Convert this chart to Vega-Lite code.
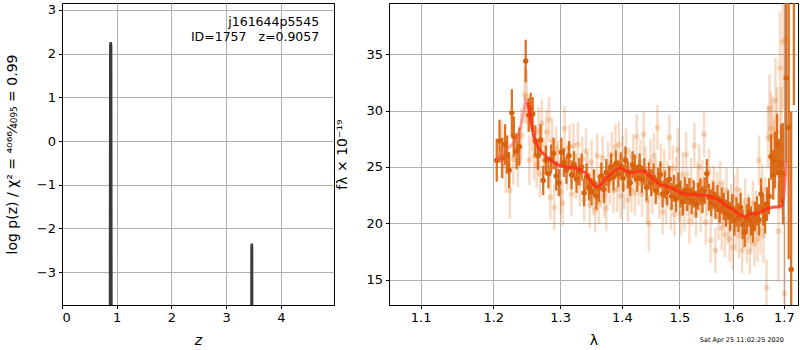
{
  "$schema": "https://vega.github.io/schema/vega-lite/v6.json",
  "background": "white",
  "padding": {"left": 4, "top": 2, "right": 1, "bottom": 0},
  "spacing": 0,
  "config": {
    "font": "DejaVu Sans",
    "view": {"stroke": "black", "strokeWidth": 1},
    "axis": {
      "labelFont": "DejaVu Sans", "labelFontSize": 13, "labelColor": "black",
      "titleFont": "DejaVu Sans", "titleFontSize": 14, "titleFontWeight": "normal", "titleColor": "black",
      "tickColor": "black", "tickSize": 3.5, "domainColor": "black",
      "gridColor": "#b0b0b0", "gridWidth": 1, "labelPadding": 3
    }
  },
  "datasets": {
    "pz": [
      {"z": 0.0, "lp": -6}, {"z": 0.872, "lp": -6}, {"z": 0.88, "lp": 2.2}, {"z": 0.89, "lp": 2.26}, {"z": 0.9, "lp": 2.2}, {"z": 0.908, "lp": -6},
      {"z": 3.455, "lp": -6}, {"z": 3.461, "lp": -2.4}, {"z": 3.468, "lp": -2.35}, {"z": 3.475, "lp": -2.4}, {"z": 3.481, "lp": -6}, {"z": 4.97, "lp": -6}
    ],
    "labels": [
      {"z": 4.70, "lp": 2.73, "t": "j161644p5545"},
      {"z": 4.70, "lp": 2.39, "t": "ID=1757\u00a0\u00a0\u00a0z=0.9057"}
    ],
    "stamp": [{"l": 1.6166, "f": 9.6, "t": "Sat Apr 25 11:02:25 2020"}],
    "dark": [
      {"l":1.205,"f":25.6,"e":1.9},{"l":1.209,"f":27.3,"e":1.9},{"l":1.213,"f":25.8,"e":1.8},{"l":1.217,"f":27.0,"e":1.8},
      {"l":1.220,"f":26.1,"e":1.7},{"l":1.223,"f":24.7,"e":1.6},{"l":1.227,"f":29.8,"e":2.1},{"l":1.230,"f":27.7,"e":1.8},
      {"l":1.234,"f":26.4,"e":1.6},{"l":1.238,"f":26.8,"e":1.7},{"l":1.2475,"f":34.4,"e":1.9},{"l":1.252,"f":29.6,"e":1.5},
      {"l":1.255,"f":30.2,"e":1.4},{"l":1.258,"f":29.7,"e":1.5},{"l":1.262,"f":27.3,"e":1.4},{"l":1.266,"f":26.0,"e":1.3},
      {"l":1.270,"f":27.4,"e":1.4},{"l":1.274,"f":23.8,"e":1.3},{"l":1.278,"f":25.6,"e":1.3},{"l":1.282,"f":24.4,"e":1.3},
      {"l":1.286,"f":25.7,"e":1.3},{"l":1.290,"f":26.2,"e":1.4},{"l":1.294,"f":24.2,"e":1.3},{"l":1.298,"f":23.6,"e":1.2},
      {"l":1.302,"f":26.3,"e":1.3},{"l":1.306,"f":25.4,"e":1.3},{"l":1.310,"f":24.7,"e":1.2},{"l":1.314,"f":26.0,"e":1.3},
      {"l":1.318,"f":24.3,"e":1.3},{"l":1.322,"f":25.2,"e":1.2},{"l":1.326,"f":23.9,"e":1.2},{"l":1.330,"f":24.6,"e":1.2},
      {"l":1.334,"f":25.0,"e":1.2},{"l":1.338,"f":22.7,"e":1.2},{"l":1.342,"f":24.1,"e":1.2},{"l":1.346,"f":23.2,"e":1.2},
      {"l":1.350,"f":22.8,"e":1.2},{"l":1.354,"f":23.6,"e":1.2},{"l":1.358,"f":22.4,"e":1.2},{"l":1.362,"f":23.1,"e":1.2},
      {"l":1.366,"f":24.2,"e":1.2},{"l":1.370,"f":23.0,"e":1.2},{"l":1.374,"f":24.5,"e":1.2},{"l":1.378,"f":23.9,"e":1.2},
      {"l":1.382,"f":25.0,"e":1.2},{"l":1.386,"f":24.1,"e":1.2},{"l":1.390,"f":25.3,"e":1.2},{"l":1.394,"f":24.4,"e":1.2},
      {"l":1.398,"f":25.1,"e":1.2},{"l":1.402,"f":24.0,"e":1.2},{"l":1.406,"f":25.6,"e":1.2},{"l":1.410,"f":24.3,"e":1.2},
      {"l":1.414,"f":23.6,"e":1.2},{"l":1.418,"f":25.2,"e":1.2},{"l":1.422,"f":24.9,"e":1.2},{"l":1.426,"f":24.0,"e":1.2},
      {"l":1.430,"f":25.0,"e":1.2},{"l":1.434,"f":23.9,"e":1.2},{"l":1.438,"f":24.6,"e":1.2},{"l":1.442,"f":23.2,"e":1.2},
      {"l":1.446,"f":24.2,"e":1.2},{"l":1.450,"f":23.6,"e":1.2},{"l":1.454,"f":24.1,"e":1.2},{"l":1.458,"f":22.9,"e":1.2},
      {"l":1.462,"f":23.7,"e":1.2},{"l":1.466,"f":24.3,"e":1.2},{"l":1.470,"f":22.6,"e":1.2},{"l":1.474,"f":23.4,"e":1.2},
      {"l":1.478,"f":22.8,"e":1.2},{"l":1.482,"f":23.9,"e":1.2},{"l":1.486,"f":22.4,"e":1.2},{"l":1.490,"f":23.1,"e":1.2},
      {"l":1.494,"f":22.2,"e":1.2},{"l":1.498,"f":23.3,"e":1.2},{"l":1.502,"f":22.6,"e":1.2},{"l":1.506,"f":21.9,"e":1.2},
      {"l":1.510,"f":22.9,"e":1.2},{"l":1.514,"f":22.3,"e":1.2},{"l":1.518,"f":22.8,"e":1.2},{"l":1.522,"f":22.0,"e":1.2},
      {"l":1.526,"f":22.6,"e":1.2},{"l":1.530,"f":21.7,"e":1.2},{"l":1.534,"f":22.4,"e":1.2},{"l":1.538,"f":22.8,"e":1.2},
      {"l":1.542,"f":22.1,"e":1.2},{"l":1.546,"f":22.9,"e":1.2},{"l":1.550,"f":24.4,"e":1.3},{"l":1.554,"f":22.3,"e":1.2},
      {"l":1.558,"f":21.8,"e":1.2},{"l":1.562,"f":22.5,"e":1.2},{"l":1.566,"f":21.6,"e":1.2},{"l":1.570,"f":22.2,"e":1.2},
      {"l":1.574,"f":21.2,"e":1.2},{"l":1.578,"f":22.0,"e":1.2},{"l":1.582,"f":21.5,"e":1.2},{"l":1.586,"f":20.9,"e":1.2},
      {"l":1.590,"f":21.6,"e":1.3},{"l":1.594,"f":20.6,"e":1.3},{"l":1.598,"f":21.3,"e":1.3},{"l":1.602,"f":20.2,"e":1.3},
      {"l":1.606,"f":21.0,"e":1.3},{"l":1.610,"f":20.5,"e":1.3},{"l":1.614,"f":21.4,"e":1.3},{"l":1.618,"f":19.9,"e":1.3},
      {"l":1.622,"f":19.2,"e":1.3},{"l":1.626,"f":20.4,"e":1.3},{"l":1.630,"f":21.0,"e":1.3},{"l":1.634,"f":20.2,"e":1.3},
      {"l":1.638,"f":19.6,"e":1.3},{"l":1.642,"f":20.6,"e":1.3},{"l":1.646,"f":21.1,"e":1.3},{"l":1.650,"f":20.3,"e":1.4},
      {"l":1.654,"f":22.6,"e":1.4},{"l":1.658,"f":21.2,"e":1.4},{"l":1.662,"f":20.5,"e":1.4},{"l":1.666,"f":21.7,"e":1.5},
      {"l":1.670,"f":22.4,"e":1.6},{"l":1.674,"f":25.9,"e":2.0},{"l":1.678,"f":24.3,"e":2.2},{"l":1.682,"f":25.6,"e":2.5},
      {"l":1.686,"f":27.0,"e":2.7},{"l":1.690,"f":24.5,"e":3.0},{"l":1.694,"f":25.3,"e":3.5},{"l":1.698,"f":24.4,"e":4.5},
      {"l":1.7047,"f":32.9,"e":7.5},{"l":1.7098,"f":28.5,"e":11.7},{"l":1.7149,"f":15.9,"e":14.0},{"l":1.7205,"f":45.0,"e":14.5}
    ],
    "light": [
      {"l":1.212,"f":26.6,"e":2.5},{"l":1.218,"f":25.1,"e":2.4},{"l":1.224,"f":22.9,"e":2.5},{"l":1.229,"f":25.7,"e":2.3},
      {"l":1.236,"f":25.5,"e":2.3},{"l":1.241,"f":27.8,"e":2.4},{"l":1.246,"f":31.4,"e":2.5},{"l":1.249,"f":31.2,"e":2.4},
      {"l":1.253,"f":25.6,"e":2.2},{"l":1.257,"f":28.6,"e":2.2},{"l":1.260,"f":26.0,"e":2.2},{"l":1.264,"f":25.2,"e":2.1},
      {"l":1.267,"f":28.2,"e":2.1},{"l":1.269,"f":24.4,"e":2.1},{"l":1.272,"f":28.9,"e":2.1},{"l":1.275,"f":25.6,"e":2.0},
      {"l":1.279,"f":28.1,"e":2.0},{"l":1.283,"f":29.2,"e":2.0},{"l":1.285,"f":22.3,"e":2.0},{"l":1.288,"f":27.3,"e":2.0},
      {"l":1.291,"f":21.4,"e":2.0},{"l":1.294,"f":26.6,"e":2.0},{"l":1.297,"f":25.3,"e":2.0},{"l":1.301,"f":22.8,"e":2.0},
      {"l":1.304,"f":21.8,"e":2.0},{"l":1.307,"f":28.4,"e":2.0},{"l":1.311,"f":24.9,"e":2.0},{"l":1.315,"f":26.8,"e":2.0},
      {"l":1.318,"f":22.6,"e":2.0},{"l":1.321,"f":26.9,"e":2.0},{"l":1.325,"f":24.2,"e":2.0},{"l":1.328,"f":27.0,"e":2.0},
      {"l":1.331,"f":23.5,"e":2.0},{"l":1.335,"f":25.7,"e":2.0},{"l":1.338,"f":22.1,"e":2.0},{"l":1.341,"f":26.4,"e":2.0},
      {"l":1.344,"f":24.3,"e":2.0},{"l":1.347,"f":21.6,"e":2.0},{"l":1.350,"f":25.4,"e":2.0},{"l":1.353,"f":22.7,"e":2.0},
      {"l":1.356,"f":21.2,"e":2.0},{"l":1.359,"f":26.0,"e":2.0},{"l":1.362,"f":21.9,"e":2.0},{"l":1.365,"f":23.4,"e":2.0},
      {"l":1.368,"f":25.8,"e":2.0},{"l":1.371,"f":22.5,"e":2.0},{"l":1.374,"f":21.3,"e":2.0},{"l":1.377,"f":25.2,"e":2.0},
      {"l":1.380,"f":23.6,"e":2.0},{"l":1.383,"f":26.1,"e":2.0},{"l":1.386,"f":22.9,"e":2.0},{"l":1.389,"f":26.8,"e":2.0},
      {"l":1.392,"f":23.0,"e":2.0},{"l":1.395,"f":27.0,"e":2.0},{"l":1.398,"f":22.4,"e":2.0},{"l":1.401,"f":25.8,"e":2.0},
      {"l":1.404,"f":23.2,"e":2.0},{"l":1.407,"f":26.4,"e":2.0},{"l":1.410,"f":22.1,"e":2.0},{"l":1.413,"f":24.7,"e":2.0},
      {"l":1.416,"f":23.0,"e":2.0},{"l":1.419,"f":25.9,"e":2.0},{"l":1.422,"f":22.7,"e":2.0},{"l":1.425,"f":27.7,"e":2.0},
      {"l":1.428,"f":23.6,"e":2.0},{"l":1.431,"f":25.4,"e":2.0},{"l":1.434,"f":22.6,"e":2.0},{"l":1.437,"f":27.9,"e":2.0},
      {"l":1.440,"f":24.8,"e":2.0},{"l":1.443,"f":22.0,"e":2.0},{"l":1.446,"f":20.0,"e":2.5},{"l":1.449,"f":25.5,"e":2.0},
      {"l":1.452,"f":22.8,"e":2.0},{"l":1.455,"f":26.0,"e":2.0},{"l":1.458,"f":23.8,"e":2.0},{"l":1.461,"f":28.5,"e":2.0},
      {"l":1.464,"f":22.4,"e":2.0},{"l":1.467,"f":25.1,"e":2.0},{"l":1.470,"f":21.0,"e":2.0},{"l":1.473,"f":24.6,"e":2.0},
      {"l":1.476,"f":22.0,"e":2.0},{"l":1.479,"f":23.5,"e":2.0},{"l":1.482,"f":27.6,"e":2.0},{"l":1.485,"f":21.4,"e":2.0},
      {"l":1.488,"f":24.9,"e":2.0},{"l":1.491,"f":20.8,"e":2.0},{"l":1.494,"f":23.9,"e":2.0},{"l":1.497,"f":26.5,"e":2.0},
      {"l":1.500,"f":22.1,"e":2.0},{"l":1.503,"f":20.9,"e":2.0},{"l":1.506,"f":24.3,"e":2.0},{"l":1.509,"f":21.3,"e":2.0},
      {"l":1.512,"f":26.1,"e":2.0},{"l":1.515,"f":22.6,"e":2.0},{"l":1.518,"f":20.2,"e":2.0},{"l":1.521,"f":23.8,"e":2.0},
      {"l":1.524,"f":21.8,"e":2.0},{"l":1.527,"f":26.9,"e":2.0},{"l":1.530,"f":20.8,"e":2.0},{"l":1.533,"f":23.4,"e":2.0},
      {"l":1.536,"f":25.0,"e":2.0},{"l":1.539,"f":21.2,"e":2.0},{"l":1.542,"f":23.6,"e":2.0},{"l":1.545,"f":27.9,"e":2.0},
      {"l":1.548,"f":20.1,"e":2.0},{"l":1.551,"f":22.7,"e":2.0},{"l":1.554,"f":24.6,"e":2.0},{"l":1.557,"f":18.5,"e":2.0},
      {"l":1.560,"f":21.9,"e":2.0},{"l":1.563,"f":23.1,"e":2.0},{"l":1.566,"f":17.6,"e":2.0},{"l":1.569,"f":22.6,"e":2.0},
      {"l":1.572,"f":20.5,"e":2.0},{"l":1.575,"f":23.5,"e":2.0},{"l":1.578,"f":19.6,"e":2.0},{"l":1.581,"f":21.8,"e":2.0},
      {"l":1.584,"f":19.0,"e":2.0},{"l":1.587,"f":22.9,"e":2.0},{"l":1.590,"f":20.2,"e":2.0},{"l":1.593,"f":18.6,"e":2.0},
      {"l":1.596,"f":21.5,"e":2.0},{"l":1.599,"f":17.9,"e":2.0},{"l":1.602,"f":22.3,"e":2.0},{"l":1.605,"f":19.5,"e":2.0},
      {"l":1.608,"f":23.0,"e":2.0},{"l":1.611,"f":18.9,"e":2.0},{"l":1.614,"f":21.1,"e":2.0},{"l":1.617,"f":17.6,"e":2.0},
      {"l":1.620,"f":19.8,"e":2.0},{"l":1.623,"f":22.0,"e":2.0},{"l":1.626,"f":18.5,"e":2.0},{"l":1.629,"f":20.6,"e":2.0},
      {"l":1.632,"f":17.5,"e":2.0},{"l":1.635,"f":19.6,"e":2.0},{"l":1.638,"f":21.8,"e":2.0},{"l":1.641,"f":18.2,"e":2.0},
      {"l":1.644,"f":20.9,"e":2.0},{"l":1.647,"f":18.6,"e":2.0},{"l":1.650,"f":25.6,"e":2.2},{"l":1.653,"f":19.4,"e":2.2},
      {"l":1.656,"f":23.0,"e":2.3},{"l":1.659,"f":18.9,"e":2.4},{"l":1.662,"f":21.6,"e":2.5},{"l":1.665,"f":14.3,"e":2.5},
      {"l":1.668,"f":27.6,"e":2.8},{"l":1.671,"f":30.2,"e":3.0},{"l":1.674,"f":28.4,"e":3.2},{"l":1.677,"f":27.8,"e":3.4},
      {"l":1.680,"f":25.7,"e":3.6},{"l":1.683,"f":30.9,"e":3.8},{"l":1.686,"f":28.1,"e":4.0},{"l":1.689,"f":19.3,"e":4.5},
      {"l":1.692,"f":33.8,"e":5.0},{"l":1.695,"f":26.6,"e":5.5},{"l":1.698,"f":36.1,"e":6.0},{"l":1.701,"f":13.8,"e":7.0},
      {"l":1.704,"f":36.3,"e":8.0}
    ],
    "model": [
      {"l":1.2503,"f":30.7},{"l":1.253,"f":30.0},{"l":1.256,"f":28.8},{"l":1.260,"f":27.6},{"l":1.265,"f":26.9},
      {"l":1.270,"f":26.4},{"l":1.280,"f":25.85},{"l":1.290,"f":25.4},{"l":1.300,"f":25.1},{"l":1.310,"f":25.0},
      {"l":1.320,"f":24.95},{"l":1.330,"f":24.8},{"l":1.340,"f":24.5},{"l":1.345,"f":24.1},{"l":1.350,"f":23.6},
      {"l":1.3576,"f":23.2},{"l":1.365,"f":23.4},{"l":1.372,"f":23.9},{"l":1.380,"f":24.3},{"l":1.390,"f":24.75},
      {"l":1.396,"f":24.9},{"l":1.402,"f":24.8},{"l":1.410,"f":24.55},{"l":1.420,"f":24.5},{"l":1.432,"f":24.65},
      {"l":1.440,"f":24.6},{"l":1.448,"f":24.2},{"l":1.456,"f":23.8},{"l":1.463,"f":23.5},{"l":1.472,"f":23.35},
      {"l":1.480,"f":23.25},{"l":1.490,"f":23.0},{"l":1.500,"f":22.8},{"l":1.510,"f":22.6},{"l":1.520,"f":22.55},
      {"l":1.530,"f":22.55},{"l":1.540,"f":22.5},{"l":1.550,"f":22.5},{"l":1.560,"f":22.3},{"l":1.570,"f":22.1},
      {"l":1.580,"f":21.8},{"l":1.590,"f":21.45},{"l":1.600,"f":21.2},{"l":1.610,"f":20.85},{"l":1.6236,"f":20.55},
      {"l":1.630,"f":20.75},{"l":1.637,"f":20.9},{"l":1.645,"f":20.85},{"l":1.652,"f":20.95},{"l":1.660,"f":21.15},
      {"l":1.670,"f":21.35},{"l":1.680,"f":21.45},{"l":1.690,"f":21.45},{"l":1.696,"f":21.6},{"l":1.699,"f":22.2}
    ],
    "modelpink": [
      {"l":1.2048,"f":25.6},{"l":1.212,"f":26.0},{"l":1.220,"f":26.6},{"l":1.228,"f":27.0},{"l":1.234,"f":27.6},
      {"l":1.239,"f":28.3},{"l":1.243,"f":29.5},{"l":1.2475,"f":30.9},{"l":1.2503,"f":30.7}
    ],
    "modelrise": [
      {"l":1.699,"f":22.2},{"l":1.701,"f":23.0},{"l":1.703,"f":24.2},{"l":1.7047,"f":25.5}
    ]
  },
  "hconcat": [
    {
      "width": 272,
      "height": 302,
      "encoding": {
        "x": {"field": "z", "type": "quantitative", "title": "z",
          "scale": {"domain": [0, 4.97], "nice": false, "zero": false},
          "axis": {"values": [0, 1, 2, 3, 4], "format": "d", "titleFontStyle": "italic", "titleFontWeight": "normal", "titlePadding": 9}},
        "y": {"field": "lp", "type": "quantitative", "title": "log p(z) / χ² = ⁴⁰⁶⁶⁄₄₀₉₅ = 0.99",
          "scale": {"domain": [-3.755, 3.16], "nice": false, "zero": false},
          "axis": {"values": [-3, -2, -1, 0, 1, 2, 3], "format": "d", "titleFontWeight": "normal", "titlePadding": 17}}
      },
      "layer": [
        {
          "data": {"name": "pz"},
          "mark": {"type": "line", "color": "#3a3a3a", "strokeWidth": 2.2, "clip": true}
        },
        {
          "data": {"name": "labels"},
          "mark": {"type": "text", "align": "right", "baseline": "middle", "fontSize": 12.5, "font": "DejaVu Sans", "color": "black"},
          "encoding": {"text": {"field": "t"}}
        }
      ]
    },
    {
      "width": 409,
      "height": 302,
      "encoding": {
        "x": {"field": "l", "type": "quantitative", "title": "λ",
          "scale": {"type": "log", "domain": [1.059, 1.729], "nice": false},
          "axis": {"values": [1.1, 1.2, 1.3, 1.4, 1.5, 1.6, 1.7], "format": ".1f", "titleFontWeight": "normal", "titlePadding": 9}},
        "y": {"field": "f", "type": "quantitative", "title": "fλ × 10⁻¹⁹",
          "scale": {"domain": [12.75, 39.55], "nice": false, "zero": false},
          "axis": {"values": [15, 20, 25, 30, 35], "format": "d", "titleFontWeight": "normal", "titlePadding": 16}}
      },
      "layer": [
        {
          "data": {"name": "light"},
          "mark": {"type": "errorbar", "color": "#e07018", "opacity": 0.25, "thickness": 2.5, "clip": true},
          "encoding": {"yError": {"field": "e"}}
        },
        {
          "data": {"name": "light"},
          "mark": {"type": "point", "filled": true, "color": "#e07018", "opacity": 0.25, "size": 32, "clip": true}
        },
        {
          "data": {"name": "dark"},
          "mark": {"type": "errorbar", "color": "#d9630c", "opacity": 0.9, "thickness": 2.3, "clip": true},
          "encoding": {"yError": {"field": "e"}}
        },
        {
          "data": {"name": "dark"},
          "mark": {"type": "point", "filled": true, "color": "#d9630c", "opacity": 1, "size": 30, "clip": true}
        },
        {
          "data": {"name": "modelpink"},
          "mark": {"type": "line", "color": "#ff5a5a", "opacity": 0.5, "strokeWidth": 3, "clip": true}
        },
        {
          "data": {"name": "modelrise"},
          "mark": {"type": "line", "color": "#ff4a3a", "opacity": 0.7, "strokeWidth": 3, "clip": true}
        },
        {
          "data": {"name": "model"},
          "mark": {"type": "line", "color": "#ff2a1a", "opacity": 0.8, "strokeWidth": 3, "clip": true}
        },
        {
          "data": {"name": "stamp"},
          "mark": {"type": "text", "align": "center", "baseline": "middle", "fontSize": 6.5, "font": "DejaVu Sans", "color": "black"},
          "encoding": {"text": {"field": "t"}}
        }
      ]
    }
  ]
}
